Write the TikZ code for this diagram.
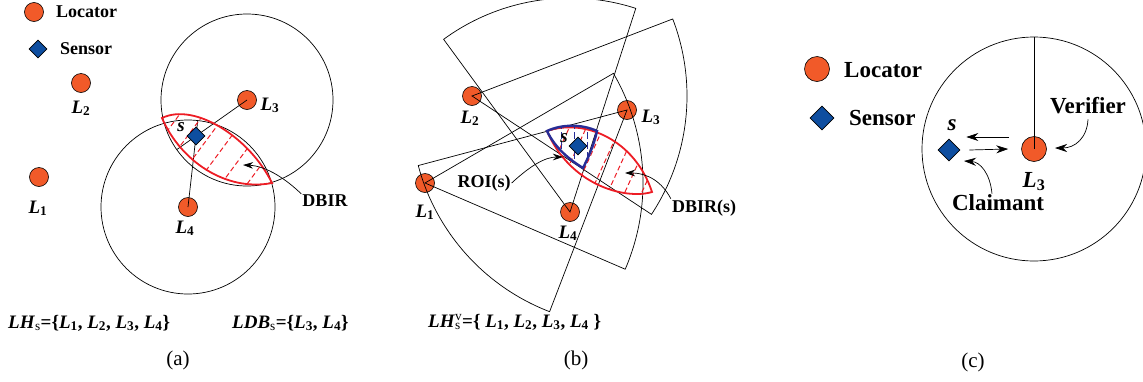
\documentclass[tikz,border=0pt]{standalone}
\usepackage{fontspec}
\setmainfont{Liberation Serif}
\usetikzlibrary{shapes.geometric,arrows.meta,calc}
\definecolor{locfill}{RGB}{241,90,41}
\definecolor{senfill}{RGB}{14,78,160}
\definecolor{dbred}{RGB}{237,28,36}
\definecolor{roiblue}{RGB}{40,45,150}
\newcommand\myfs[1]{\fontsize{#1}{#1}\selectfont}
\newcommand\Lb[1]{\textbf{\textit{L}}\textsubscript{\textup{\textbf{#1}}}}
\begin{document}
\begin{tikzpicture}[x=1pt,y=-1pt,
  loc/.style={circle,draw=black,line width=0.6pt,fill=locfill,minimum size=#1,inner sep=0pt},
  loc/.default=19pt,
  sen/.style={diamond,aspect=1,draw=black,line width=0.6pt,fill=senfill,minimum size=#1,inner sep=0pt},
  sen/.default=18pt,
  wire/.style={line width=0.7pt,draw=black},
  lab/.style={font=\myfs{19}\bfseries\itshape,inner sep=0pt,anchor=base},
  labc/.style={font=\myfs{23}\bfseries\itshape,inner sep=0pt,anchor=base},
  txt/.style={font=\myfs{18}\bfseries,inner sep=1pt},
  txtc/.style={font=\myfs{23}\bfseries,inner sep=1pt},
  captxt/.style={font=\myfs{21},inner sep=1pt},
  arr/.style={line width=0.7pt,-{Stealth[length=10pt,width=6.5pt]}},
  arrc/.style={line width=0.7pt,-{Stealth[length=12pt,width=8pt]}},
  hatch/.style={draw=dbred,line width=1pt,dash pattern=on 5pt off 3pt},
  lens/.style={draw=dbred,line width=1.8pt},
  roi/.style={draw=roiblue,line width=2.4pt},
  roihatch/.style={draw=roiblue,line width=1pt,dash pattern=on 7pt off 3pt}
]
\useasboundingbox (0,0) rectangle (1143,381);

% ================= panel (a) =================
\node[loc] (legLa) at (34,12) {};
\node[txt,anchor=west] (legLta) at (55,12) {Locator};
\node[sen] (legSa) at (38,49) {};
\node[txt,anchor=west] (legSta) at (59,49) {Sensor};

\node[loc] (aL1) at (39,177) {};
\node[loc] (aL2) at (81,83) {};
\node[loc] (aL3) at (247,100) {};
\node[loc] (aL4) at (188,207) {};
\coordinate (as) at (196,136);

\draw[wire] (aL3.center) circle [radius=86];
\draw[wire] (aL4.center) circle [radius=87];
\draw[wire] (aL3.center) -- ($(aL3.center)!86pt!(as)$);
\draw[wire] (aL4.center) -- ($(aL4.center)!87pt!(as)$);

\def\lensApath{(162,118) .. controls (195,102) and (250,138) .. (272,183) .. controls (225,192) and (180,160) .. (162,118) -- cycle}
\begin{scope}
  \clip \lensApath;
  \foreach \x in {131,155,177,199,224,250,273}
    \draw[hatch] ({\x-60},261) -- ({\x+80},72);
\end{scope}
\draw[lens] \lensApath;
\node[sen] (aS) at (as) {};

\node[lab] (aL1t) at (38,213) {\Lb{1}};
\node[lab] (aL2t) at (81,113) {\Lb{2}};
\node[lab] (aL3t) at (270,110) {\Lb{3}};
\node[lab] (aL4t) at (185,233) {\Lb{4}};
\node[lab] (aSt) at (181,131) {s};

\node[txt] (dbira) at (325,201) {DBIR};
\coordinate (tipA) at (243,165);
\draw[arr] (dbira.north west) .. controls (287,180) and (267,166) .. (tipA);

\node[anchor=west,font=\myfs{19},inner sep=0pt] (lhs) at (8,323)
  {\textbf{\textit{LH}}\textsubscript{s}\textbf{=\{}\Lb{1}\textbf{, }\Lb{2}\textbf{, }\Lb{3}\textbf{, }\Lb{4}\textbf{\}}};
\node[anchor=west,font=\myfs{19},inner sep=0pt] (ldb) at (232,323)
  {\textbf{\textit{LDB}}\textsubscript{s}\textbf{=\{}\Lb{3}\textbf{, }\Lb{4}\textbf{\}}};
\node[captxt] (capa) at (178,360) {(a)};

% ================= panel (b) =================
\node[loc] (bL1) at (425,183) {};
\node[loc] (bL2) at (472,96) {};
\node[loc] (bL3) at (627,110) {};
\node[loc] (bL4) at (570,212) {};
\coordinate (bs) at (578,146);

\draw[wire] (bL4.center) -- ++(-126.2:214) arc (-126.2:-72.1:214) -- cycle;
\draw[wire] (bL2.center) -- ++(-21:215) arc (-21:33.4:215) -- cycle;
\draw[wire] (bL3.center) -- ++(165.1:216) arc (165.1:111:216) -- cycle;
\draw[wire] (bL1.center) -- ++(-30.2:218) arc (-30.2:23.3:218) -- cycle;

\def\lensBpath{(547,131) .. controls (585,118) and (635,140) .. (652,192) .. controls (625,200) and (570,185) .. (547,131) -- cycle}
\def\roiPath{(547,131) .. controls (562,124) and (582,124) .. (597,131) .. controls (594,145) and (588,158) .. (583,168) .. controls (570,160) and (555,148) .. (547,131) -- cycle}
\begin{scope}
  \clip \lensBpath;
  \foreach \x in {550,567,584,601,618,635,652}
    \draw[hatch] ({\x-20},214) -- ({\x+30},104);
\end{scope}
\draw[lens] \lensBpath;
\begin{scope}
  \clip \roiPath;
  \foreach \x in {561,574,587}
    \draw[roihatch] (\x,122) -- (\x,175);
\end{scope}
\draw[roi] \roiPath;
\node[sen] (bS) at (bs) {};

\node[lab] (bL1t) at (425,217) {\Lb{1}};
\node[lab] (bL2t) at (470,123) {\Lb{2}};
\node[lab] (bL3t) at (651,122) {\Lb{3}};
\node[lab] (bL4t) at (568,238) {\Lb{4}};
\node[lab] (bSt) at (564,142) {s};

\node[txt] (roit) at (484,183) {ROI(s)};
\coordinate (roiTip) at (563,157);
\draw[arr] (roit.east) .. controls (530,166) and (545,157) .. (roiTip);
\node[txt] (dbirb) at (704,208) {DBIR(s)};
\coordinate (dbirbTip) at (625,173);
\draw[arr] (dbirb.north west) .. controls (662,182) and (648,173) .. (dbirbTip);

\node[anchor=west,font=\myfs{19},inner sep=0pt] (lhsv) at (428,322)
  {\textbf{\textit{LH}}\rlap{\textsubscript{s}}\textsuperscript{v}\textbf{=\{ }\Lb{1}\textbf{, }\Lb{2}\textbf{, }\Lb{3}\textbf{, }\Lb{4}\textbf{ \}}};
\node[captxt] (capb) at (576,360) {(b)};

% ================= panel (c) =================
\node[loc=25pt] (cLegL) at (817,69) {};
\node[txtc,anchor=west] (cLegLt) at (843,70) {Locator};
\node[sen=24pt] (cLegS) at (822,118) {};
\node[txtc,anchor=west] (cLegSt) at (848,118) {Sensor};

\node[loc=25pt] (cL3) at (1034,149) {};
\draw[wire] (cL3.center) circle [radius=112];
\draw[wire] (cL3.center) -- ++(0,-112);
\node[sen=22pt] (cS) at (949,150) {};
\node[labc] (cL3t) at (1034,187) {\Lb{3}};
\node[labc] (cSt) at (952,130) {s};

\draw[arrc] ([shift={(-12pt,12pt)}]cL3.west) -- ([shift={(6pt,13pt)}]cS.east);
\draw[arrc] ([shift={(9pt,0pt)}]cS.east) -- ([shift={(-13pt,0pt)}]cL3.west);

\node[txtc] (ver) at (1088,106) {Verifier};
\coordinate (verTip) at (1055,148);
\draw[arrc] ([yshift=-4pt]ver.south) .. controls (1087,138) and (1075,148) .. (verTip);
\node[txtc] (clm) at (998,203) {Claimant};
\coordinate (clmTip) at (964,161);
\draw[arrc] ([xshift=-6pt]clm.north) .. controls (990,173) and (980,162) .. (clmTip);
\node[captxt] (capc) at (973,362) {(c)};
\end{tikzpicture}
\end{document}
